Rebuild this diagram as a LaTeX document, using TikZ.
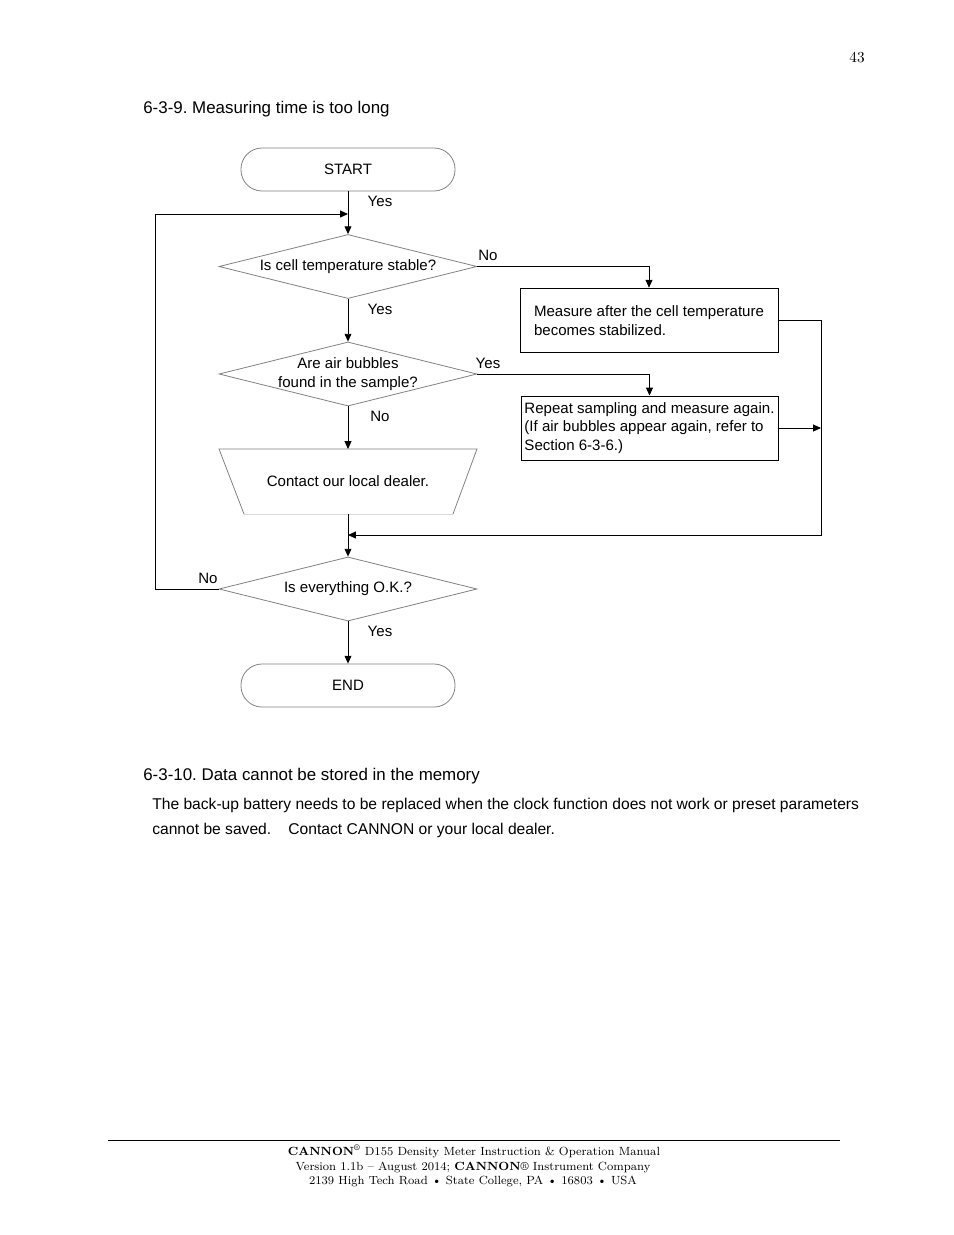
\documentclass[tikz,border=0pt]{standalone}
\usepackage{fontspec}
\setmainfont{Latin Modern Roman}
\newfontfamily\arialf{Liberation Sans}
\usetikzlibrary{arrows.meta,shapes.geometric}
\frenchspacing
\tikzset{
  fc/.style={font=\arialf\fontsize{9.65}{12}\selectfont},
  term/.style={draw=gray, line width=0.5pt, rounded corners=13.5pt, minimum width=137.3pt, minimum height=27.6pt, inner sep=0pt, fc},
  dia/.style={diamond, draw=gray, line width=0.5pt, minimum width=165.5pt, minimum height=41.1pt, inner sep=0pt},
  procbox/.style={draw=black, line width=0.6pt, minimum width=165.5pt, minimum height=41.5pt, inner sep=0pt, align=left, fc},
  lab/.style={fc, inner sep=0pt, align=center},
  arr/.style={draw=black, line width=0.6pt, -{Triangle[length=5pt,width=4.4pt]}},
  heading/.style={font=\arialf\fontsize{10.85}{13}\selectfont, inner sep=0pt, anchor=base west},
  bodytxt/.style={font=\arialf\fontsize{10.02}{13}\selectfont, inner sep=0pt, anchor=base west},
  foot/.style={font=\fontsize{7.6}{10}\selectfont, inner sep=0pt, anchor=base},
}
\begin{document}
\begin{tikzpicture}[x=0.6415pt, y=-0.6415pt]
\useasboundingbox[fill=white] (0,0) rectangle (954,1235);

% page number and headings
\node[font=\fontsize{9.8}{12}\selectfont, inner sep=0pt, anchor=base east] (pg) at (865,62) {43};
\node[heading] (h1) at (143,113) {6-3-9. Measuring time is too long};

% flowchart nodes
\node[term] (start) at (348,169.5) {START};
\node[dia] (d1) at (348,266.5) {};
\node[lab] (d1t) at (d1) {Is cell temperature stable?};
\node[procbox] (b1) at (649,320.5) {Measure after the cell temperature\\becomes stabilized.};
\node[dia] (d2) at (348,374) {};
\node[lab] (d2t) at (d2) {Are air bubbles\\found in the sample?};
\node[procbox, minimum width=164.9pt, minimum height=41.1pt] (b2) at (649.5,428) {Repeat sampling and measure again.\\(If air bubbles appear again, refer to\\Section 6-3-6.)};
% trapezoid
\draw[draw=gray, line width=0.5pt] (244,514) -- (219,449) -- (477,449) -- (453,514);
\draw[draw=gray!30, line width=0.5pt] (453,514) -- (244,514);
\coordinate (ttop) at (348,449);
\coordinate (tbot) at (348,514);
\node[lab] (tt) at (348,481.5) {Contact our local dealer.};
\node[dia] (d3) at (348,589) {};
\node[lab] (d3t) at (d3) {Is everything O.K.?};
\node[term] (end) at (348,685.5) {END};

% helper coordinates
\coordinate (lc) at (155,214);
\coordinate (j1) at (348,214);
\coordinate (rc) at (821,535);
\coordinate (j2) at (348,535);
\coordinate (r2) at (821,428);

% connectors
\draw[arr] (start) -- (d1);
\draw[arr] (d1.east) -| (b1.north);
\draw[arr] (d1) -- (d2);
\draw[arr] (d2.east) -| (b2.north);
\draw[arr] (d2) -- (ttop);
\draw[arr] (tbot) -- (d3);
\draw[arr] (d3) -- (end);
\draw[arr] (d3.west) -| (lc) -- (j1);
\draw[arr] (b1.east) -| (rc) -- (j2);
\draw[arr] (b2.east) -- (r2);

% connector labels
\node[lab] (y1) at (380,201) {Yes};
\node[lab] (n1) at (488,255) {No};
\node[lab] (y2) at (380,309) {Yes};
\node[lab] (y3) at (488,363) {Yes};
\node[lab] (n2) at (380,416) {No};
\node[lab] (n3) at (208,578) {No};
\node[lab] (y4) at (380,631) {Yes};

% second section
\node[heading] (h2) at (143,780) {6-3-10. Data cannot be stored in the memory};
\node[bodytxt] (p1) at (152,809) {The back-up battery needs to be replaced when the clock function does not work or preset parameters};
\node[bodytxt] (p2) at (152,834) {cannot be saved.\hspace{1.1em}Contact CANNON or your local dealer.};

% footer
\draw[black, line width=0.6pt] (108,1140) -- (840,1140);
\node[foot] (f1) at (474,1155) {\textbf{CANNON}\textsuperscript{\textregistered} D155 Density Meter Instruction \& Operation Manual};
\node[foot] (f2) at (473,1170) {Version 1.1b -- August 2014; \textbf{CANNON}\textregistered{} Instrument Company};
\node[foot] (f3) at (473,1184) {2139 High Tech Road \textbullet{} State College, PA \textbullet{} 16803 \textbullet{} USA};
\end{tikzpicture}
\end{document}
